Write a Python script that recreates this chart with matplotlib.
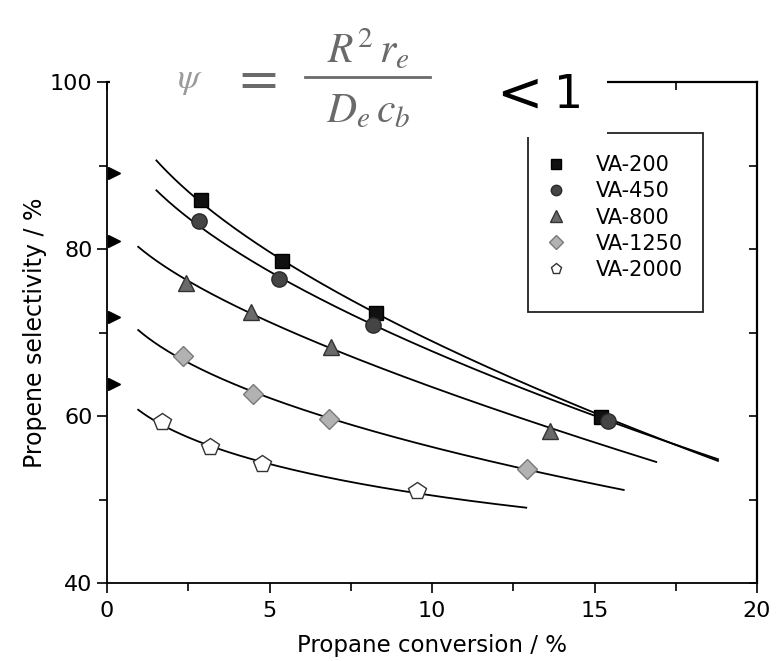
import numpy as np
import matplotlib
matplotlib.use('Agg')
import matplotlib.pyplot as plt
from matplotlib.lines import Line2D
from matplotlib.patches import Rectangle

# ---------------- data ----------------
series_labels = ['VA-200', 'VA-450', 'VA-800', 'VA-1250', 'VA-2000']

va200_x = [2.90, 5.39, 8.27, 15.2]
va200_y = [85.9, 78.6, 72.3, 59.9]
va450_x = [2.82, 5.29, 8.19, 15.4]
va450_y = [83.4, 76.4, 70.9, 59.4]
va800_x = [2.44, 4.44, 6.89, 13.64]
va800_y = [75.9, 72.5, 68.3, 58.2]
va1250_x = [2.34, 4.49, 6.84, 12.92]
va1250_y = [67.2, 62.6, 59.7, 53.7]
va2000_x = [1.68, 3.16, 4.78, 9.55]
va2000_y = [59.3, 56.3, 54.3, 51.0]

# trend-curve end points
curve_start_x = [1.52, 1.52, 0.96, 0.96, 0.96]
curve_start_y = [90.4, 86.7, 80.4, 70.1, 60.6]
curve_end_x = [18.8, 18.8, 16.9, 15.9, 12.9]
curve_end_y = [54.75, 54.9, 54.7, 51.1, 48.9]

# small black marks on the left axis
axis_marks_y = [89.1, 80.9, 71.9, 63.8]

x_ticks = [0, 5, 10, 15, 20]
y_ticks = [40, 60, 80, 100]

series_x = [va200_x, va450_x, va800_x, va1250_x, va2000_x]
series_y = [va200_y, va450_y, va800_y, va1250_y, va2000_y]

# ---------------- styles ----------------
markers = ['s', 'o', '^', 'D', 'p']
faces = ['#111111', '#454545', '#6a6a6a', '#b2b2b2', '#ffffff']
edges = ['#000000', '#2a2a2a', '#333333', '#7a7a7a', '#333333']
msizes = [10, 11, 12, 10.5, 13]
leg_sizes = [7, 7.5, 8, 7, 8]

W, H = 778, 661
fig = plt.figure(figsize=(W / 100, H / 100), dpi=100)
fig.patch.set_facecolor('white')

def fx(px):
    return px / W

def fy(py):
    return 1 - py / H

ax_l, ax_r, ax_t, ax_b = 107, 757, 82, 583
ax = fig.add_axes([fx(ax_l), fy(ax_b), (ax_r - ax_l) / W, (ax_b - ax_t) / H])

for i in range(5):
    xs = np.array([curve_start_x[i]] + series_x[i] + [curve_end_x[i]])
    ys = np.array([curve_start_y[i]] + series_y[i] + [curve_end_y[i]])
    A = np.column_stack([np.ones_like(xs), xs, np.sqrt(xs)])
    coef, *_ = np.linalg.lstsq(A, ys, rcond=None)
    xx = np.linspace(curve_start_x[i], curve_end_x[i], 400)
    yy = coef[0] + coef[1] * xx + coef[2] * np.sqrt(xx)
    ax.plot(xx, yy, color='black', lw=1.3, zorder=2)
    ax.plot(series_x[i], series_y[i], linestyle='none', marker=markers[i],
            ms=msizes[i], mfc=faces[i], mec=edges[i], mew=1.0, zorder=3)

ax.plot([0.22] * len(axis_marks_y), axis_marks_y, linestyle='none', marker='>',
        ms=8.5, color='black', clip_on=False, zorder=4)

ax.set_xlim(0, 20)
ax.set_ylim(40, 100)
ax.set_xticks(x_ticks)
ax.set_yticks(y_ticks)
ax.set_xticks([2.5, 7.5, 12.5, 17.5], minor=True)
ax.set_yticks([50, 70, 90], minor=True)
ax.tick_params(which='both', direction='out', width=1.2, labelsize=16,
               top=False, right=False)
ax.tick_params(which='major', length=7)
ax.tick_params(which='minor', length=6)
ax.tick_params(axis='x', pad=6)
for s in ax.spines.values():
    s.set_linewidth(1.3)

secx = ax.secondary_xaxis('top')
secx.set_xticks(x_ticks)
secx.set_xticks([2.5, 7.5, 12.5, 17.5], minor=True)
secx.tick_params(which='both', direction='in', length=6, width=1.2, labeltop=False)
secx.spines['top'].set_linewidth(1.6)
secy = ax.secondary_yaxis('right')
secy.set_yticks(y_ticks)
secy.set_yticks([50, 70, 90], minor=True)
secy.tick_params(which='both', direction='in', length=6, width=1.2, labelright=False)
secy.spines['right'].set_linewidth(1.6)

ax.set_xlabel('Propane conversion / %', fontsize=16.5, labelpad=9)
ax.set_ylabel('Propene selectivity / %', fontsize=17, labelpad=2)

# legend
handles = [Line2D([], [], linestyle='none', marker=markers[i], ms=leg_sizes[i],
                  mfc=faces[i], mec=edges[i], mew=1.0) for i in range(5)]
leg = ax.legend(handles, series_labels, loc='upper left',
                bbox_to_anchor=(fx(546), fy(155)), bbox_transform=fig.transFigure,
                frameon=False, borderpad=0, borderaxespad=0, handlelength=1.0,
                handletextpad=1.4, labelspacing=0.3, fontsize=15)
leg.set_zorder(5)

# legend frame (partly hidden by the formula box)
fig.patches.append(Rectangle((fx(528), fy(312)), (703 - 528) / W, (312 - 133) / H,
                             transform=fig.transFigure, fill=False,
                             edgecolor='#222222', lw=1.3, zorder=2))

# white box of the formula overlay
fig.patches.append(Rectangle((fx(110), fy(137)), (607 - 110) / W, 137 / H,
                             transform=fig.transFigure, facecolor='white',
                             edgecolor='none', zorder=6))

fc = '#6a6a6a'
fig.text(fx(190), fy(80), r'$\psi$', fontsize=26, color='#9a9a9a', ha='center',
         va='center', math_fontfamily='stix', zorder=7)
fig.text(fx(254), fy(78), r'$=$', fontsize=40, color=fc, ha='center', va='center',
         math_fontfamily='stix', zorder=7)
fig.text(fx(368), fy(50), r'$R^{2}\,r_{e}$', fontsize=30, color=fc, ha='center',
         va='center', math_fontfamily='stix', zorder=7)
fig.text(fx(368), fy(110), r'$D_{e}\,c_{b}$', fontsize=30, color=fc, ha='center',
         va='center', math_fontfamily='stix', zorder=7)
fig.add_artist(Line2D([fx(305), fx(430)], [fy(77), fy(77)], color=fc, lw=2,
                      transform=fig.transFigure, zorder=7))
fig.text(fx(519), fy(96), '<', fontsize=40, color='black', ha='center',
         va='center', zorder=7)
fig.text(fx(569), fy(95), '1', fontsize=33, color='black', ha='center',
         va='center', zorder=7)

fig.savefig('out.png', dpi=100)
